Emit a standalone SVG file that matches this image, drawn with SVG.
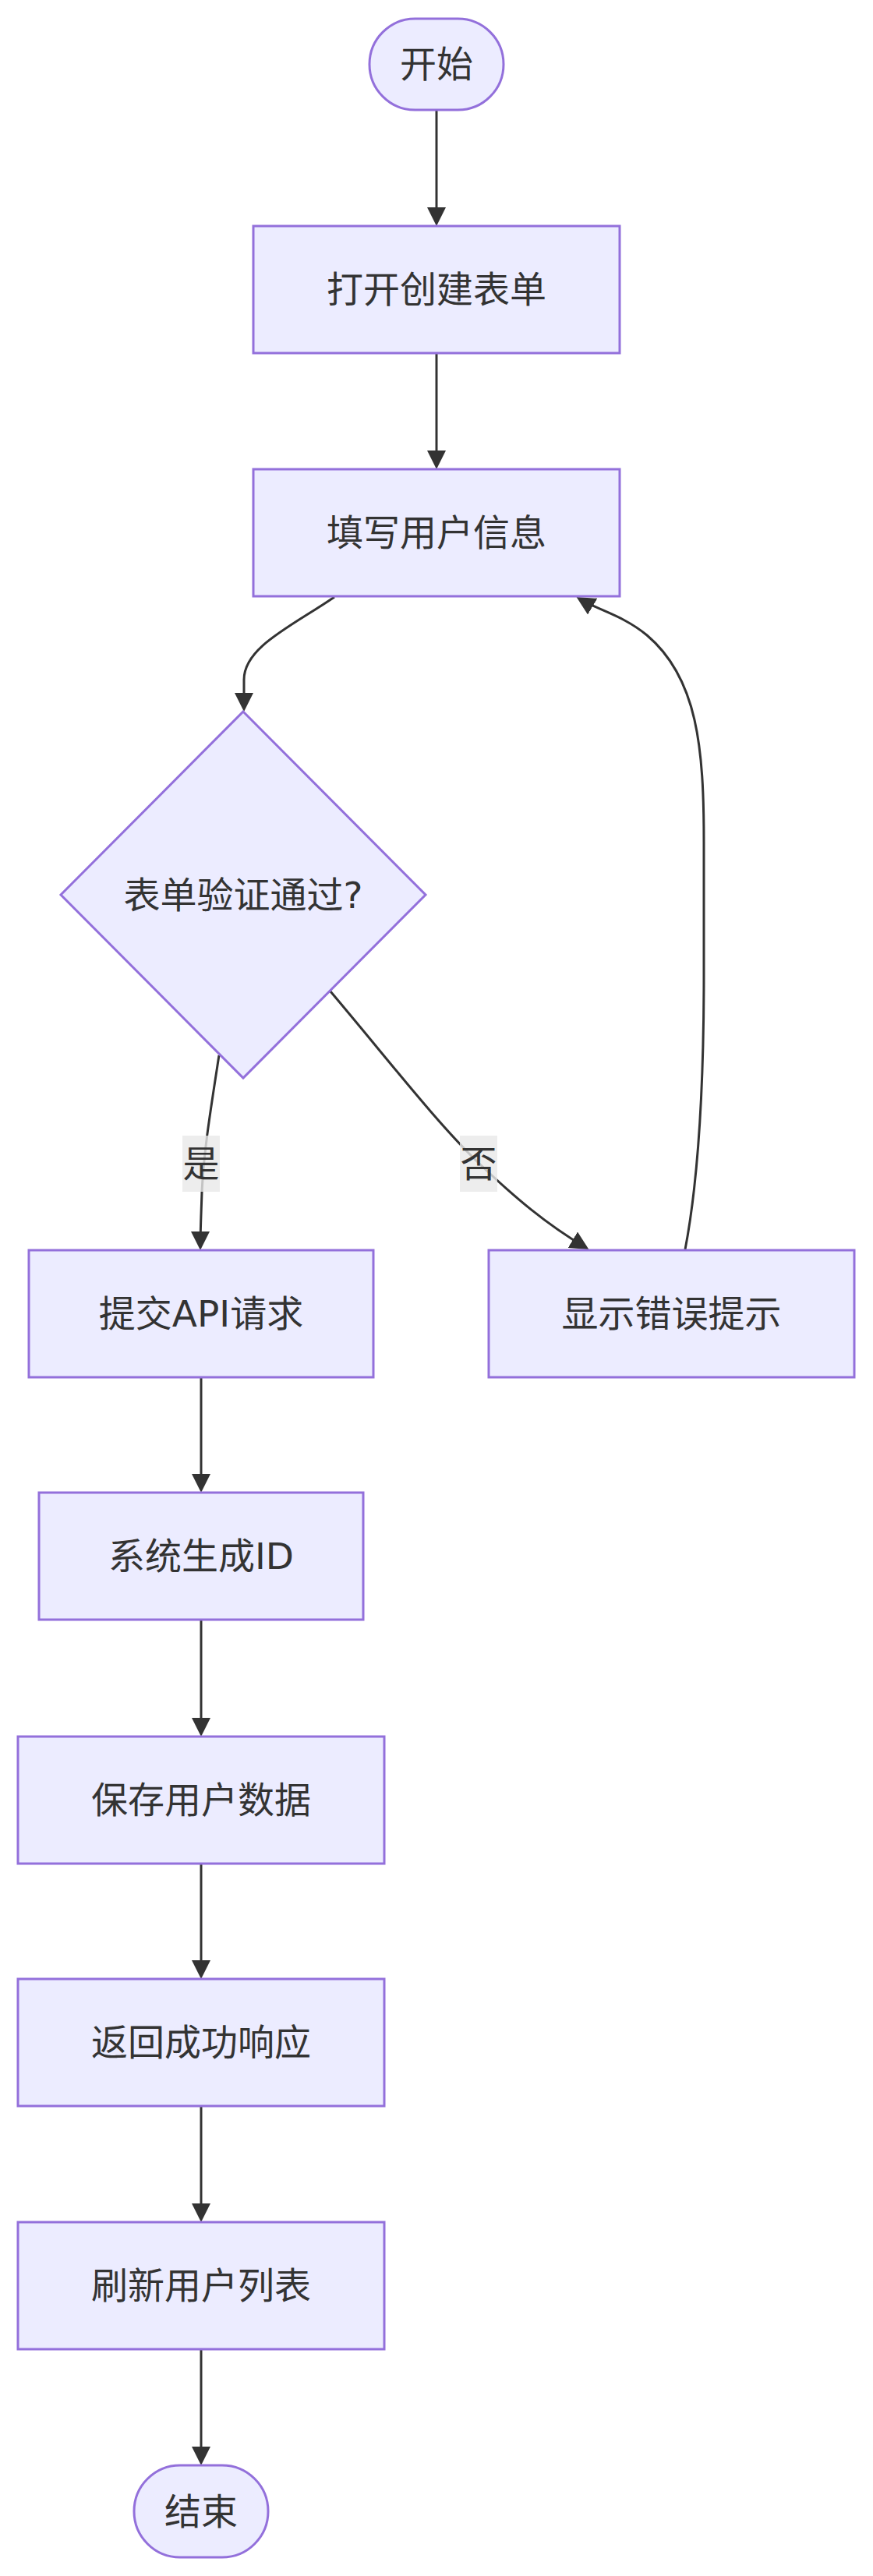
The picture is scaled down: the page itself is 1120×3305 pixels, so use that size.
<svg xmlns="http://www.w3.org/2000/svg" width="1120" height="3305" viewBox="0 0 1120 3305">
  <style>
    .node rect, .node polygon { fill: #ECECFF; stroke: #9370DB; stroke-width: 3; }
    .node text, .label text { font-family: "DejaVu Sans", "Noto Sans CJK SC", sans-serif; font-size: 47px; fill: #333333; text-anchor: middle; dominant-baseline: central; }
    .edges path { fill: none; stroke: #333333; stroke-width: 3; }
    .label rect { fill: rgba(232,232,232,0.8); }
  </style>
  <defs>
    <marker id="arrow" markerUnits="userSpaceOnUse" viewBox="0 0 24 24" markerWidth="24" markerHeight="24" refX="20" refY="12" orient="auto">
      <path d="M0,0 L24,12 L0,24 z" fill="#333333"/>
    </marker>
  </defs>

  <!-- connectors -->
  <g class="edges">
    <path d="M560,141 L560,286" marker-end="url(#arrow)"/>
    <path d="M560,453 L560,598" marker-end="url(#arrow)"/>
    <path d="M429,766 C 375,803 313,830 313,872 L313,909" marker-end="url(#arrow)"/>
    <path d="M281,1354 C 270,1425 261,1480 259,1530 C 258,1560 257,1580 257,1600" marker-end="url(#arrow)"/>
    <path d="M424,1272 C 500,1362 560,1440 614,1492 C 660,1536 700,1570 752,1601" marker-end="url(#arrow)"/>
    <path d="M879,1603 C 893,1530 903,1420 903,1250 L903,1080 C 903,960 895,870 830,815 C 800,790 770,784 743,768" marker-end="url(#arrow)"/>
    <path d="M258,1767 L258,1911" marker-end="url(#arrow)"/>
    <path d="M258,2078 L258,2224" marker-end="url(#arrow)"/>
    <path d="M258,2391 L258,2535" marker-end="url(#arrow)"/>
    <path d="M258,2702 L258,2847" marker-end="url(#arrow)"/>
    <path d="M258,3014 L258,3159" marker-end="url(#arrow)"/>
  </g>

  <!-- edge labels -->
  <g class="label" id="label-yes">
    <rect x="234" y="1457" width="48" height="72"/>
    <text x="258" y="1493">是</text>
  </g>
  <g class="label" id="label-no">
    <rect x="590" y="1457" width="48" height="72"/>
    <text x="614" y="1493">否</text>
  </g>

  <!-- nodes -->
  <g class="node" id="start">
    <rect x="474" y="24" width="172" height="117" rx="58.5" ry="58.5"/>
    <text x="560" y="82.5">开始</text>
  </g>
  <g class="node" id="openForm">
    <rect x="325" y="290" width="470" height="163"/>
    <text x="560" y="371.5">打开创建表单</text>
  </g>
  <g class="node" id="fillInfo">
    <rect x="325" y="602" width="470" height="163"/>
    <text x="560" y="683.5">填写用户信息</text>
  </g>
  <g class="node" id="validate">
    <polygon points="312,913 546,1148 312,1383 78,1148"/>
    <text x="312" y="1148">表单验证通过?</text>
  </g>
  <g class="node" id="submitApi">
    <rect x="37" y="1604" width="442" height="163"/>
    <text x="258" y="1685.5">提交API请求</text>
  </g>
  <g class="node" id="showError">
    <rect x="627" y="1604" width="469" height="163"/>
    <text x="861.5" y="1685.5">显示错误提示</text>
  </g>
  <g class="node" id="genId">
    <rect x="50" y="1915" width="416" height="163"/>
    <text x="258" y="1996.5">系统生成ID</text>
  </g>
  <g class="node" id="saveData">
    <rect x="23" y="2228" width="470" height="163"/>
    <text x="258" y="2309.5">保存用户数据</text>
  </g>
  <g class="node" id="returnOk">
    <rect x="23" y="2539" width="470" height="163"/>
    <text x="258" y="2620.5">返回成功响应</text>
  </g>
  <g class="node" id="refreshList">
    <rect x="23" y="2851" width="470" height="163"/>
    <text x="258" y="2932.5">刷新用户列表</text>
  </g>
  <g class="node" id="end">
    <rect x="172" y="3163" width="172" height="118" rx="59" ry="59"/>
    <text x="258" y="3222">结束</text>
  </g>
</svg>
